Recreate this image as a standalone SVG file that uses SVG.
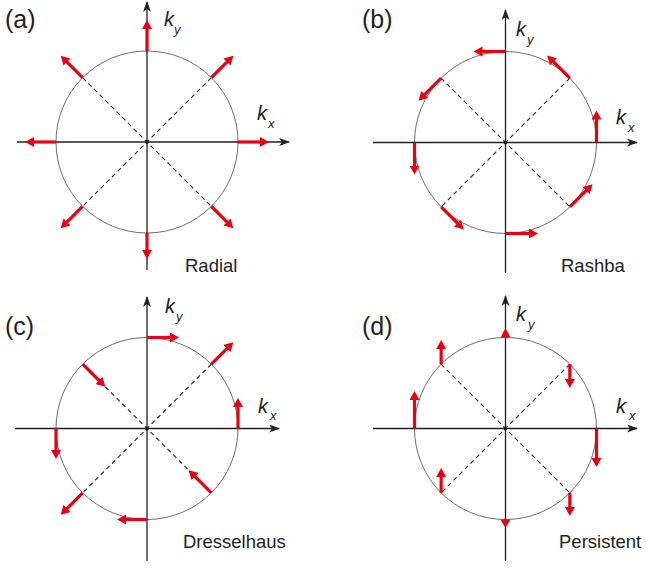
<svg xmlns="http://www.w3.org/2000/svg" width="650" height="569" viewBox="0 0 650 569">
<style>
.axis{stroke:#231f20;stroke-width:1.3;fill:none;marker-end:url(#ax)}
.ring{stroke:#6d6d6d;stroke-width:1;fill:none}
.dash{stroke:#231f20;stroke-width:1.1;stroke-dasharray:4.5 3.5;fill:none}
.spin{stroke:#e50012;stroke-width:3.2;fill:none;marker-end:url(#rh)}
.head{fill:#e50012}
.dot{fill:#231f20}
.plab{font-family:"Liberation Sans",Arial,sans-serif;font-size:25px;fill:#231f20}
.k{font-family:"Liberation Sans",Arial,sans-serif;font-style:italic;font-size:20px;fill:#231f20}
.sub{font-family:"Liberation Sans",Arial,sans-serif;font-style:italic;font-size:13px;fill:#231f20}
.name{font-family:"Liberation Sans",Arial,sans-serif;font-size:18.5px;fill:#231f20}
</style>
<defs>
<marker id="ax" markerUnits="userSpaceOnUse" markerWidth="12" markerHeight="9" refX="10" refY="4" orient="auto">
<path d="M0,0 L11,4 L0,8 L3,4 z" fill="#231f20"/>
</marker>
<marker id="rh" markerUnits="userSpaceOnUse" markerWidth="10" markerHeight="10" refX="2" refY="5" orient="auto">
<path d="M0,0 L9,5 L0,10 z" fill="#e50012"/>
</marker>
</defs>

<g id="panel-a">
<circle class="ring" cx="147" cy="142" r="91"/>
<g id="axes-a">
<path class="axis" d="M17,142 L289,142"/>
<path class="axis" d="M147,270 L147,2"/>
<path class="dash" d="M82.65,77.65 L211.35,206.35 M211.35,77.65 L82.65,206.35"/>
</g>
<circle class="dot" cx="147" cy="142" r="1.9"/>
<g id="spins-a">
<path class="spin" d="M147,51 L147,27"/>
<path class="spin" d="M238,142 L262,142"/>
<path class="spin" d="M56,142 L32,142"/>
<path class="spin" d="M147,233 L147,252"/>
<path class="spin" d="M211.35,77.65 L228.4,60.6"/>
<path class="spin" d="M82.65,77.65 L65.6,60.6"/>
<path class="spin" d="M82.65,206.35 L65.6,223.4"/>
<path class="spin" d="M211.35,206.35 L228.4,223.4"/>
</g>
<text class="plab" x="5" y="28">(a)</text>
<text class="k" x="164" y="26">k</text><text class="sub" x="174" y="34">y</text>
<text class="k" x="257" y="120">k</text><text class="sub" x="268" y="128">x</text>
<text class="name" x="185" y="272">Radial</text>
</g>

<g id="panel-b">
<circle class="ring" cx="505.5" cy="142.5" r="91"/>
<g id="axes-b">
<path class="axis" d="M373,142.5 L637,142.5"/>
<path class="axis" d="M505.5,273 L505.5,10"/>
<path class="dash" d="M441.15,78.15 L569.85,206.85 M569.85,78.15 L441.15,206.85"/>
</g>
<circle class="dot" cx="505.5" cy="142.5" r="1.9"/>
<g id="spins-b">
<path class="spin" d="M505.5,51.5 L480.5,51.5"/>
<path class="spin" d="M596.5,142.5 L596.5,117.5"/>
<path class="spin" d="M505.5,233.5 L531,233.5"/>
<path class="spin" d="M414.5,142.5 L414.5,167.5"/>
<path class="spin" d="M569.85,78.15 L552.1,60.4"/>
<path class="spin" d="M441.15,78.15 L423.4,95.9"/>
<path class="spin" d="M441.15,206.85 L458.9,224.6"/>
<path class="spin" d="M569.85,206.85 L587.6,189.1"/>
</g>
<text class="plab" x="362" y="28">(b)</text>
<text class="k" x="516" y="36">k</text><text class="sub" x="527" y="44">y</text>
<text class="k" x="616" y="124">k</text><text class="sub" x="628" y="132">x</text>
<text class="name" x="561" y="272">Rashba</text>
</g>

<g id="panel-c">
<circle class="ring" cx="147" cy="428.5" r="91"/>
<g id="axes-c">
<path class="axis" d="M15,428.5 L279,428.5"/>
<path class="axis" d="M147,561 L147,297"/>
<path class="dash" d="M82.65,364.15 L211.35,492.85 M211.35,364.15 L82.65,492.85"/>
</g>
<circle class="dot" cx="147" cy="428.5" r="1.9"/>
<g id="spins-c">
<path class="spin" d="M147,337.5 L172,337.5"/>
<path class="spin" d="M238,428.5 L238,405"/>
<path class="spin" d="M147,519.5 L124,519.5"/>
<path class="spin" d="M56,428.5 L56,452"/>
<path class="spin" d="M211.35,364.15 L228.4,347.1"/>
<path class="spin" d="M82.65,364.15 L100.4,381.9"/>
<path class="spin" d="M211.35,492.85 L193.6,475.1"/>
<path class="spin" d="M82.65,492.85 L65.6,509.9"/>
</g>
<text class="plab" x="5" y="335">(c)</text>
<text class="k" x="165" y="313">k</text><text class="sub" x="176" y="321">y</text>
<text class="k" x="258" y="413">k</text><text class="sub" x="270" y="420">x</text>
<text class="name" x="183" y="548">Dresselhaus</text>
</g>

<g id="panel-d">
<circle class="ring" cx="505.5" cy="428.5" r="91"/>
<g id="axes-d">
<path class="axis" d="M373,428.5 L637,428.5"/>
<path class="axis" d="M505.5,561 L505.5,296"/>
<path class="dash" d="M441.15,364.15 L569.85,492.85 M569.85,364.15 L441.15,492.85"/>
</g>
<circle class="dot" cx="505.5" cy="428.5" r="1.9"/>
<g id="spins-d">
<path class="spin" d="M414.5,428.5 L414.5,398"/>
<path class="spin" d="M441.15,364.15 L441.15,347"/>
<path class="spin" d="M441.15,492.85 L441.15,475"/>
<path class="spin" d="M569.85,364.15 L569.85,381"/>
<path class="spin" d="M596.5,428.5 L596.5,460"/>
<path class="spin" d="M569.85,492.85 L569.85,509"/>
<path class="head" d="M505.5,328 L510.5,337.5 L500.5,337.5 z"/>
<path class="head" d="M505.5,528 L510.5,519.5 L500.5,519.5 z"/>
</g>
<text class="plab" x="362" y="335">(d)</text>
<text class="k" x="516" y="321">k</text><text class="sub" x="528" y="329">y</text>
<text class="k" x="616" y="413">k</text><text class="sub" x="629" y="420">x</text>
<text class="name" x="559" y="548">Persistent</text>
</g>
</svg>
